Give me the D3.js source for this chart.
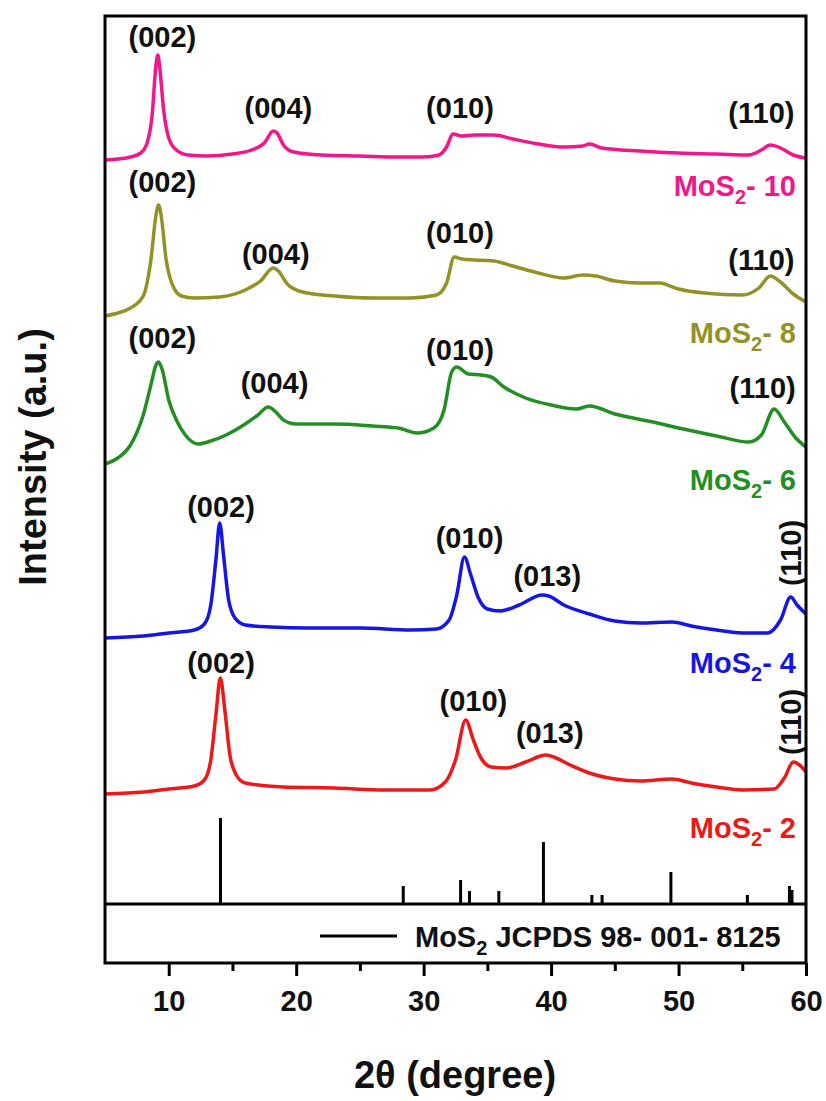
<!DOCTYPE html>
<html>
<head>
<meta charset="utf-8">
<script src="https://d3js.org/d3.v7.min.js"></script>
<style>
body { margin: 0; background: #fff; }
text { font-family: "Liberation Sans", Arial, sans-serif; font-weight: bold; }
</style>
</head>
<body>
<script>
// XRD patterns, [2theta, intensity a.u. incl. stacking offset]
var mos2_10 = [[5,744],[6,745],[7,747],[7.8,751],[8.3,761],[8.7,789],[9.0,839],[9.15,849],[9.3,836],[9.6,794],[10,766],[10.6,754],[11.5,749],[13,748],[15,750],[16.5,754],[17.5,761],[18.2,773],[18.5,771],[19,759],[19.8,752],[22,749],[25,748],[28,747],[30,747],[31.2,749],[31.8,757],[32.3,770],[33,768],[34,769],[35.5,769],[37,765],[39,760],[41,757],[42.5,758],[43,760],[44,756],[47,753],[50,751],[53,750],[55.5,749],[56.5,754],[57.2,759],[58,756],[59,749],[60,746]];
var mos2_8 = [[5,588],[6,591],[7,596],[8,608],[8.6,644],[9.0,689],[9.2,699],[9.4,689],[9.8,644],[10.3,619],[11,608],[12,606],[14,607],[16,614],[17.2,623],[18.2,636],[18.6,633],[19.3,620],[20.5,612],[23,608],[26,606],[29,606],[31,609],[31.8,621],[32.4,647],[33,645],[34,644],[35.5,643],[37,638],[39,631],[41,626],[42.5,629],[43.5,628],[45,623],[47,621],[48.5,621],[50,615],[52,611],[55,609],[56.3,616],[57.2,628],[58,622],[59,610],[60,602]];
var mos2_6 = [[5,440],[6,446],[7,459],[8,489],[8.6,519],[9.0,539],[9.2,542],[9.5,534],[10,504],[10.6,484],[11.3,469],[12.3,460],[13.3,463],[14.5,469],[16,480],[17,489],[17.8,497],[18.4,492],[19,484],[20,480],[23,480],[26,478],[28,476],[29.5,471],[30.8,476],[31.6,494],[32.2,532],[32.6,537],[33.5,530],[34.5,529],[35.3,527],[36.3,517],[38,506],[40,499],[42,495],[43,498],[45,490],[48,482],[50,476],[53,468],[55.5,462],[56.5,469],[57.5,495],[58.3,482],[59.2,466],[60,457]];
var mos2_4 = [[5,266],[8,268],[10,271],[12,274],[12.8,280],[13.3,299],[13.7,344],[14.0,381],[14.3,349],[14.7,304],[15.2,286],[16,279],[18,277],[21,276],[25,276],[29,274],[31,275],[32,284],[32.6,309],[33.2,347],[33.7,329],[34.3,306],[35,295],[36,293],[37.5,299],[39.3,309],[39.8,308],[41,299],[43,290],[45,283],[47,281],[49.5,282],[51,278],[53,274],[55,271],[57,271],[58,284],[58.8,307],[59.3,299],[60,290]];
var mos2_2 = [[5,110],[8,112],[10,115],[12,118],[12.8,124],[13.3,144],[13.7,189],[14.05,226],[14.4,194],[14.8,149],[15.3,129],[16,121],[19,117],[23,116],[27,114],[30.5,114],[31.7,122],[32.5,144],[33.3,184],[33.9,164],[34.5,146],[35.3,137],[36.5,136],[38,142],[39.6,149],[40.2,147],[41.5,139],[43,131],[45,125],[47,123],[49.5,125],[51,121],[53,117],[55,114],[57.5,115],[58.3,126],[59,142],[59.5,139],[60,132]];

// reference pattern JCPDS 98-001-8125
var refPos = [14.06, 28.4, 32.9, 33.6, 35.9, 39.4, 43.2, 44.0, 49.4, 55.4, 58.7, 58.9];
var refInt = [86, 18, 24, 13, 13, 62, 9, 9, 32, 9, 18, 14];

// peak labels: [text, 2theta, a.u., rotated]
var lab10 = [["(002)",9.5,857],["(004)",18.6,786],["(010)",32.85,786],["(110)",56.5,781]];
var lab8  = [["(002)",9.5,712],["(004)",18.4,640],["(010)",32.85,661],["(110)",56.5,634]];
var lab6  = [["(002)",9.5,556],["(004)",18.3,511],["(010)",32.85,544],["(110)",56.6,506]];
var lab4  = [["(002)",14.1,387],["(010)",33.6,356],["(013)",39.7,318],["(110)",58.8,351,true]];
var lab2  = [["(002)",14.1,231],["(010)",33.9,193],["(013)",39.9,161],["(110)",58.8,182,true]];

var seriesNames = ["10","8","6","4","2"];
var seriesData = [mos2_10, mos2_8, mos2_6, mos2_4, mos2_2];
var seriesLabels = [lab10, lab8, lab6, lab4, lab2];
var seriesColors = ["#f2168a","#929226","#238f23","#1616e4","#ee1818"];
var nameAnchor = [708, 561, 414, 231, 66]; // a.u. baseline of sample names

var majorTicks = [10,20,30,40,50,60];
var minorTicks = [15,25,35,45,55];

var svg = d3.select("body").append("svg")
  .attr("width", 826)
  .attr("height", 1101);

var x = d3.scaleLinear().domain([5, 60]).range([105, 806]);
var y = d3.scaleLinear().domain([0, 888]).range([904, 16]);

svg.append("clipPath").attr("id", "clip")
  .append("rect").attr("x", 105).attr("y", 16).attr("width", 701).attr("height", 888);

var line = d3.line()
  .x(function(d){ return x(d[0]); })
  .y(function(d){ return y(d[1]); })
  .curve(d3.curveMonotoneX);

var plot = svg.append("g").attr("clip-path", "url(#clip)");

seriesData.forEach(function(s, i){
  plot.append("path")
    .datum(s)
    .attr("d", line)
    .attr("fill", "none")
    .attr("stroke", seriesColors[i])
    .attr("stroke-width", 3.5)
    .attr("stroke-linejoin", "round");
});

// reference sticks
plot.selectAll(".stick").data(refPos).enter().append("line")
  .attr("class", "stick")
  .attr("x1", function(d){ return x(d); })
  .attr("x2", function(d){ return x(d); })
  .attr("y1", y(0))
  .attr("y2", function(d, i){ return y(refInt[i]); })
  .attr("stroke", "#000")
  .attr("stroke-width", 3);

// peak labels
seriesLabels.forEach(function(labs){
  labs.forEach(function(l){
    var t = svg.append("text")
      .attr("font-size", 29)
      .attr("fill", "#111")
      .attr("text-anchor", "middle")
      .text(l[0]);
    if (l[3]) {
      t.attr("dominant-baseline", "central")
       .attr("transform", "translate(" + x(l[1]) + "," + y(l[2]) + ") rotate(-90)");
    } else {
      t.attr("x", x(l[1])).attr("y", y(l[2]));
    }
  });
});

// sample names
seriesNames.forEach(function(n, i){
  var t = svg.append("text")
    .attr("x", 796)
    .attr("y", y(nameAnchor[i]))
    .attr("text-anchor", "end")
    .attr("font-size", 29)
    .attr("fill", seriesColors[i]);
  t.append("tspan").text("MoS");
  t.append("tspan").attr("font-size", 20).attr("dy", 8).text("2");
  t.append("tspan").attr("dy", -8).text("- " + n);
});

// frame and divider
svg.append("rect")
  .attr("x", 105).attr("y", 16).attr("width", 701).attr("height", 947)
  .attr("fill", "none").attr("stroke", "#000").attr("stroke-width", 3);
svg.append("line")
  .attr("x1", 105).attr("x2", 806).attr("y1", 904).attr("y2", 904)
  .attr("stroke", "#000").attr("stroke-width", 3);

// legend
svg.append("line")
  .attr("x1", 320).attr("x2", 397).attr("y1", 936).attr("y2", 936)
  .attr("stroke", "#000").attr("stroke-width", 3);
var leg = svg.append("text").attr("x", 415).attr("y", 947).attr("font-size", 29).attr("fill", "#111");
leg.append("tspan").text("MoS");
leg.append("tspan").attr("font-size", 20).attr("dy", 8).text("2");
leg.append("tspan").attr("dy", -8).text(" JCPDS 98- 001- 8125");

// x axis
var xAxis = svg.append("g")
  .attr("transform", "translate(0,963)")
  .call(d3.axisBottom(x).tickValues(majorTicks).tickSize(13).tickPadding(14).tickFormat(d3.format("d")));
xAxis.select(".domain").remove();
xAxis.selectAll("line").attr("stroke-width", 3);
xAxis.selectAll("text").attr("font-size", 29).attr("fill", "#111")
  .style("font-family", "'Liberation Sans', Arial, sans-serif").style("font-weight", "bold");

var xMinor = svg.append("g")
  .attr("transform", "translate(0,963)")
  .call(d3.axisBottom(x).tickValues(minorTicks).tickSize(8).tickFormat(""));
xMinor.select(".domain").remove();
xMinor.selectAll("line").attr("stroke-width", 3);

// axis titles
var xt = svg.append("text")
  .attr("x", 455).attr("y", 1088)
  .attr("text-anchor", "middle")
  .attr("font-size", 38)
  .attr("fill", "#111");
xt.append("tspan").text("2\u03b8 (degree)");

svg.append("text")
  .attr("transform", "translate(46,457) rotate(-90)")
  .attr("text-anchor", "middle")
  .attr("font-size", 38)
  .attr("fill", "#111")
  .text("Intensity (a.u.)");
</script>
</body>
</html>
